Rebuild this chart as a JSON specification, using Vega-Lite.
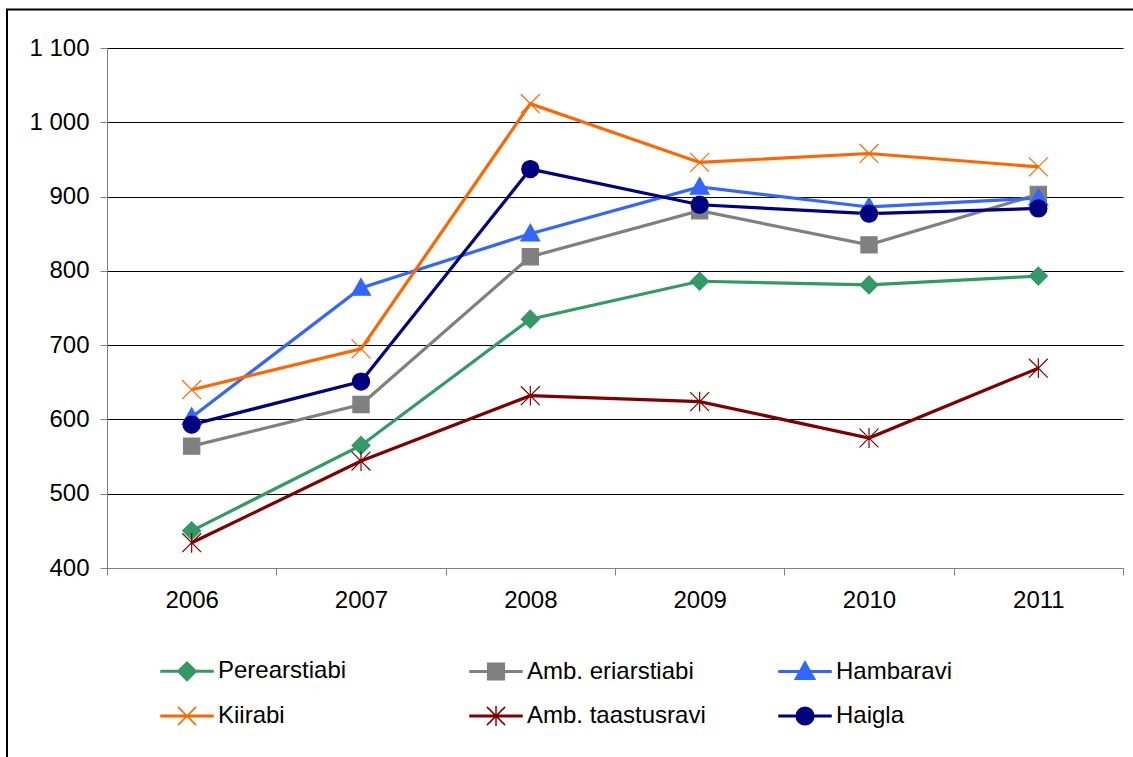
{
  "$schema": "https://vega.github.io/schema/vega-lite/v6.json",
  "width": 1016,
  "height": 520,
  "autosize": {"type": "none"},
  "padding": {"left": 107, "top": 48, "right": 10, "bottom": 189},
  "background": "white",
  "config": {
    "view": {"stroke": null},
    "font": "Liberation Sans",
    "axis": {"labelFont": "Liberation Sans", "labelFontSize": 24, "labelColor": "#000000"},
    "legend": {"labelFont": "Liberation Sans"}
  },
  "data": {
    "values": [
      {"year": "2006", "series": "Perearstiabi", "value": 450},
      {"year": "2007", "series": "Perearstiabi", "value": 565},
      {"year": "2008", "series": "Perearstiabi", "value": 735},
      {"year": "2009", "series": "Perearstiabi", "value": 786},
      {"year": "2010", "series": "Perearstiabi", "value": 781},
      {"year": "2011", "series": "Perearstiabi", "value": 793},
      {"year": "2006", "series": "Amb. eriarstiabi", "value": 564},
      {"year": "2007", "series": "Amb. eriarstiabi", "value": 620},
      {"year": "2008", "series": "Amb. eriarstiabi", "value": 819},
      {"year": "2009", "series": "Amb. eriarstiabi", "value": 881},
      {"year": "2010", "series": "Amb. eriarstiabi", "value": 835},
      {"year": "2011", "series": "Amb. eriarstiabi", "value": 903},
      {"year": "2006", "series": "Hambaravi", "value": 603},
      {"year": "2007", "series": "Hambaravi", "value": 777},
      {"year": "2008", "series": "Hambaravi", "value": 850},
      {"year": "2009", "series": "Hambaravi", "value": 913},
      {"year": "2010", "series": "Hambaravi", "value": 886},
      {"year": "2011", "series": "Hambaravi", "value": 898},
      {"year": "2006", "series": "Kiirabi", "value": 640},
      {"year": "2007", "series": "Kiirabi", "value": 695},
      {"year": "2008", "series": "Kiirabi", "value": 1025},
      {"year": "2009", "series": "Kiirabi", "value": 946},
      {"year": "2010", "series": "Kiirabi", "value": 958},
      {"year": "2011", "series": "Kiirabi", "value": 940},
      {"year": "2006", "series": "Amb. taastusravi", "value": 434},
      {"year": "2007", "series": "Amb. taastusravi", "value": 544},
      {"year": "2008", "series": "Amb. taastusravi", "value": 632},
      {"year": "2009", "series": "Amb. taastusravi", "value": 624},
      {"year": "2010", "series": "Amb. taastusravi", "value": 575},
      {"year": "2011", "series": "Amb. taastusravi", "value": 669},
      {"year": "2006", "series": "Haigla", "value": 593},
      {"year": "2007", "series": "Haigla", "value": 651},
      {"year": "2008", "series": "Haigla", "value": 937},
      {"year": "2009", "series": "Haigla", "value": 889},
      {"year": "2010", "series": "Haigla", "value": 877},
      {"year": "2011", "series": "Haigla", "value": 884}
    ]
  },
  "encoding": {
    "x": {
      "field": "year",
      "type": "ordinal",
      "scale": {"paddingInner": 0, "paddingOuter": 0},
      "axis": {
        "title": null,
        "labelAngle": 0,
        "tickBand": "extent",
        "domainColor": "#808080",
        "tickColor": "#808080",
        "tickSize": 7,
        "labelPadding": 13,
        "grid": false
      }
    },
    "y": {
      "field": "value",
      "type": "quantitative",
      "scale": {"domain": [400, 1100], "nice": false, "zero": false},
      "axis": {
        "title": null,
        "values": [400, 500, 600, 700, 800, 900, 1000, 1100],
        "labelExpr": "replace(format(datum.value, ','), ',', ' ')",
        "grid": true,
        "gridColor": "#000000",
        "gridWidth": 1,
        "domainColor": "#808080",
        "tickColor": "#808080",
        "tickSize": 7,
        "labelPadding": 11
      }
    },
    "color": {
      "field": "series",
      "type": "nominal",
      "sort": ["Perearstiabi", "Amb. eriarstiabi", "Hambaravi", "Kiirabi", "Amb. taastusravi", "Haigla"],
      "scale": {
        "domain": ["Perearstiabi", "Amb. eriarstiabi", "Hambaravi", "Kiirabi", "Amb. taastusravi", "Haigla"],
        "range": ["#339966", "#808080", "#3366FF", "#FF6600", "#800000", "#000080"]
      },
      "legend": {
        "orient": "none",
        "legendX": 53,
        "legendY": 596,
        "direction": "horizontal",
        "columns": 3,
        "gridAlign": "all",
        "columnPadding": 70,
        "rowPadding": 5,
        "padding": 0,
        "title": null,
        "symbolSize": 2704,
        "symbolStrokeWidth": 1.5,
        "labelFontSize": 24,
        "labelColor": "#000000",
        "labelOffset": 4,
        "labelLimit": 400,
        "encoding": {
          "symbols": {
            "fill": {"value": {"expr": "scale('color', datum.value)"}},
            "stroke": {"value": {"expr": "scale('color', datum.value)"}},
            "strokeWidth": {"value": 1.5},
            "opacity": {"value": 1},
            "shape": {"value": {"expr": "datum.value === 'Perearstiabi' ? 'M-1,-0.03H1V0.03H-1Z M0,-0.36L0.36,0L0,0.36L-0.36,0Z' : datum.value === 'Amb. eriarstiabi' ? 'M-1,-0.03H1V0.03H-1Z M-0.32,-0.32H0.32V0.32H-0.32Z' : datum.value === 'Hambaravi' ? 'M-1,-0.03H1V0.03H-1Z M0,-0.38L0.38,0.3H-0.38Z' : datum.value === 'Kiirabi' ? 'M-1,-0.03H1V0.03H-1Z M-0.35,-0.35L0.35,0.35M-0.35,0.35L0.35,-0.35' : datum.value === 'Amb. taastusravi' ? 'M-1,-0.03H1V0.03H-1Z M-0.35,-0.35L0.35,0.35M-0.35,0.35L0.35,-0.35M0,-0.38V0.38' : 'M-1,-0.03H1V0.03H-1Z M0.34,0A0.34,0.34 0 1,1 -0.34,0A0.34,0.34 0 1,1 0.34,0Z'"}}
          }
        }
      }
    }
  },
  "layer": [
    {
      "mark": {"type": "line", "strokeWidth": 3.2}
    },
    {
      "mark": {
        "type": "point",
        "filled": true,
        "opacity": 1,
        "size": 324,
        "strokeWidth": 1.2,
        "stroke": {"expr": "scale('color', datum.series)"},
        "shape": {"expr": "datum.series === 'Perearstiabi' ? 'M0,-1L1,0L0,1L-1,0Z' : datum.series === 'Amb. eriarstiabi' ? 'M-0.9,-0.9H0.9V0.9H-0.9Z' : datum.series === 'Hambaravi' ? 'M0,-1.05L1.05,0.8H-1.05Z' : datum.series === 'Kiirabi' ? 'M-1.05,-1.05L1.05,1.05M-1.05,1.05L1.05,-1.05' : datum.series === 'Amb. taastusravi' ? 'M-1.05,-1.05L1.05,1.05M-1.05,1.05L1.05,-1.05M0,-1.1V1.1' : 'M0.95,0A0.95,0.95 0 1,1 -0.95,0A0.95,0.95 0 1,1 0.95,0Z'"}
      }
    },
    {
      "mark": {"type": "point", "opacity": 0},
      "encoding": {
        "shape": {
          "datum": "frame",
          "legend": {
            "orient": "none",
            "legendX": -100,
            "legendY": -38.5,
            "title": null,
            "padding": 565,
            "strokeColor": "#000000",
            "symbolOpacity": 0,
            "labelExpr": "''",
            "labelOpacity": 0,
            "encoding": {
              "legend": {"strokeWidth": {"value": 2}}
            }
          }
        }
      }
    }
  ]
}
